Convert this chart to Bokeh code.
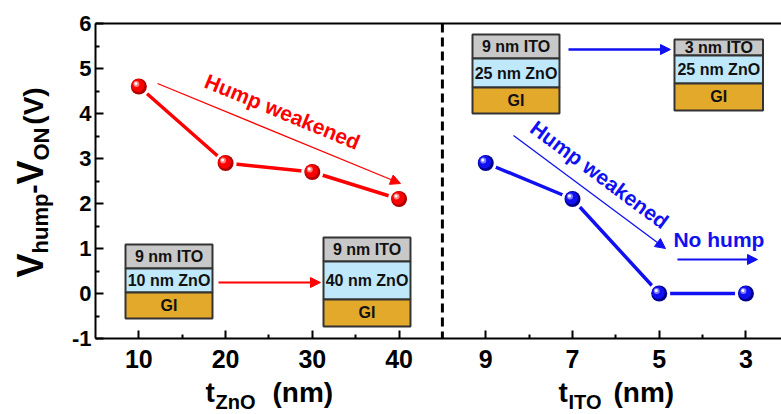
import numpy as np
from bokeh.plotting import figure
from bokeh.layouts import row, column
from bokeh.models import (LinearAxis, FixedTicker, Span, Arrow, NormalHead, Range1d)
from bokeh.embed import file_html
from bokeh.resources import INLINE
from bokeh.core.properties import value

# ---------------- data ----------------
zno_thickness = [10, 20, 30, 40]          # nm
zno_vhump = [4.6, 2.9, 2.7, 2.1]          # V
ito_thickness = [9, 7, 5, 3]              # nm
ito_vhump = [2.9, 2.1, 0.0, 0.0]          # V
y_ticks = [-1, 0, 1, 2, 3, 4, 5, 6]

# position of the ITO panel on the shared x axis (9 nm -> 50, 3 nm -> 80)
ito_pos = [50 + (9 - t) * 5 for t in ito_thickness]

FONT = "Liberation Sans"
RED = "#ff0000"
BLUE = "#1010f0"

X0, X1 = 5, 84.1
Y0, Y1 = -1, 6
xr = Range1d(X0, X1)
yr = Range1d(Y0, Y1)

LEFT_W = 68          # width of the y-title strip
MAIN_W = 781 - LEFT_W
BOT_H = 36           # height of the x-title strip
MAIN_H = 414 - BOT_H

p = figure(width=MAIN_W, height=MAIN_H, output_backend="svg", toolbar_location=None,
           x_range=xr, y_range=yr,
           min_border_left=95 - LEFT_W, min_border_right=0, min_border_top=23,
           min_border_bottom=MAIN_H - 338, x_axis_location=None, y_axis_location=None)
p.outline_line_color = None
p.grid.visible = False

# axes
xmajor = zno_thickness + ito_pos
xminor = [15, 25, 35, 55, 65, 75]
xa = LinearAxis(ticker=FixedTicker(ticks=xmajor, minor_ticks=xminor))
xa.major_label_overrides = {**{t: str(t) for t in zno_thickness},
                            **{pos: str(t) for pos, t in zip(ito_pos, ito_thickness)}}
ya = LinearAxis(ticker=FixedTicker(ticks=y_ticks,
                                   minor_ticks=[v + 0.5 for v in y_ticks[:-1]]))
ya.major_label_overrides = {v: str(v) for v in y_ticks}
for ax in (xa, ya):
    ax.axis_line_width = 2
    ax.axis_line_color = "black"
    ax.major_tick_in = 8
    ax.major_tick_out = 0
    ax.minor_tick_in = 4
    ax.minor_tick_out = 0
    ax.major_tick_line_width = 2
    ax.minor_tick_line_width = 2
    ax.major_label_text_font = FONT
    ax.major_label_text_font_style = "bold"
    ax.major_label_text_color = "black"
xa.major_label_text_font_size = "25px"
ya.major_label_text_font_size = "22px"
xa.major_label_standoff = 11
ya.major_label_standoff = 4
p.add_layout(xa, "below")
p.add_layout(ya, "left")
top = LinearAxis(ticker=FixedTicker(ticks=[]), axis_line_width=2, axis_line_color="black",
                 major_tick_line_color=None, minor_tick_line_color=None)
p.add_layout(top, "above")

# panel separator
p.add_layout(Span(location=45, dimension="height", line_color="black",
                  line_width=3, line_dash="9 5"))

# ---------------- layer stacks ----------------
layer_colors = {"ITO": "#c8c8c8", "ZnO": "#bfe8fb", "GI": "#e3a92b"}
stacks = [
    # left, right, [top, ito/zno, zno/gi, bottom], labels
    (8.46, 18.49, [1.089, 0.556, 0.022, -0.556], ["9 nm ITO", "10 nm ZnO", "GI"]),
    (31.29, 41.32, [1.244, 0.711, -0.133, -0.733], ["9 nm ITO", "40 nm ZnO", "GI"]),
    (48.47, 58.50, [5.756, 5.222, 4.578, 4.0], ["9 nm ITO", "25 nm ZnO", "GI"]),
    (71.76, 81.97, [5.644, 5.289, 4.667, 4.067], ["3 nm ITO", "25 nm ZnO", "GI"]),
]
for l, r, ys, labels in stacks:
    for i, key in enumerate(["ITO", "ZnO", "GI"]):
        p.quad(left=[l], right=[r], top=[ys[i]], bottom=[ys[i + 1]],
               fill_color=layer_colors[key], line_color="#333333", line_width=2)
        p.text(x=[(l + r) / 2], y=[(ys[i] + ys[i + 1]) / 2], text=[labels[i]],
               text_font=value(FONT), text_font_style="bold", text_font_size="16px",
               text_color="#111111", text_align="center", text_baseline="middle")

# ---------------- arrows ----------------
def arrow(x0, y0, x1, y1, color, w, size=10):
    p.add_layout(Arrow(x_start=x0, y_start=y0, x_end=x1, y_end=y1,
                       line_color=color, line_width=w,
                       end=NormalHead(size=size, fill_color=color, line_color=color,
                                      line_width=1)))

arrow(12.15, 4.667, 40.17, 2.444, RED, 1.3)
arrow(19.18, 0.244, 30.94, 0.244, RED, 2)
arrow(59.54, 5.422, 71.30, 5.422, BLUE, 2.5)
arrow(53.2, 3.511, 70.72, 1.0, BLUE, 1.3)
arrow(72.1, 0.756, 81.33, 0.756, BLUE, 2)

# ---------------- series ----------------
dx = (X1 - X0) / 686.0   # data units per pixel (x)
dy = (Y1 - Y0) / 315.0   # data units per pixel (y)

def series(xs, ys, color, dark, light):
    p.line(xs, ys, line_color=color, line_width=3.5)
    p.scatter(xs, ys, size=22, fill_color="white", line_color=None)
    p.scatter(xs, ys, size=16, fill_color=dark, line_color=None)
    p.scatter([x - 1 * dx for x in xs], [y + 1 * dy for y in ys], size=13,
              fill_color=color, line_color=None)
    p.scatter([x - 2.5 * dx for x in xs], [y + 2.5 * dy for y in ys], size=6,
              fill_color=light, line_color=None)
    p.scatter([x - 3 * dx for x in xs], [y + 3 * dy for y in ys], size=3,
              fill_color="white", line_color=None)

series(zno_thickness, zno_vhump, RED, "#b00000", "#ff8080")
series(ito_pos, ito_vhump, BLUE, "#00008a", "#8080ff")

# ---------------- in-plot texts ----------------
def txt(fig, x, y, text, size, color="black", angle=0.0, align="left",
        baseline="middle"):
    fig.text(x=[x], y=[y], text=[text], text_font=value(FONT), text_font_style="bold",
             text_font_size=size, text_color=color, angle=angle,
             text_align=align, text_baseline=baseline)

txt(p, 26.56, 4.044, "Hump weakened", "21px", RED, angle=np.deg2rad(-22.4),
    align="center")
txt(p, 63.11, 2.644, "Hump weakened", "21px", BLUE, angle=np.deg2rad(-36.5),
    align="center")
txt(p, 71.64, 1.19, "No hump", "21px", BLUE)

# ---------------- x titles strip (y in page pixels) ----------------
xb = figure(width=MAIN_W, height=BOT_H, output_backend="svg", toolbar_location=None,
            x_range=xr, y_range=Range1d(414, 414 - BOT_H),
            min_border_left=95 - LEFT_W, min_border_right=0, min_border_top=0,
            min_border_bottom=0, x_axis_location=None, y_axis_location=None)
xb.outline_line_color = None
xb.grid.visible = False
txt(xb, 17.68, 392, "t", "28px")
txt(xb, 18.84, 401, "ZnO", "20px")
txt(xb, 25.41, 392, "(nm)", "28px")
txt(xb, 58.38, 392, "t", "28px")
txt(xb, 59.54, 401, "ITO", "20px")
txt(xb, 64.73, 392, "(nm)", "28px")

# ---------------- y title strip (x in page pixels) ----------------
yl = figure(width=LEFT_W, height=414, output_backend="svg", toolbar_location=None,
            x_range=Range1d(0, LEFT_W), y_range=yr,
            min_border_left=0, min_border_right=0, min_border_top=23,
            min_border_bottom=414 - 338, x_axis_location=None, y_axis_location=None)
yl.outline_line_color = None
yl.grid.visible = False
R = np.pi / 2
txt(yl, 30.4, 0.622, "V", "36px", angle=R, align="center")
txt(yl, 40.0, 1.556, "hump", "22px", angle=R, align="center")
txt(yl, 33.2, 2.322, "-", "28px", angle=R, align="center")
txt(yl, 30.4, 2.689, "V", "36px", angle=R, align="center")
txt(yl, 40.5, 3.322, "ON", "22px", angle=R, align="center")
txt(yl, 33.2, 4.167, "(V)", "28px", angle=R, align="center")

layout = row(yl, column(p, xb, spacing=0), spacing=0)
open("out.html", "w").write(file_html(layout, INLINE))
